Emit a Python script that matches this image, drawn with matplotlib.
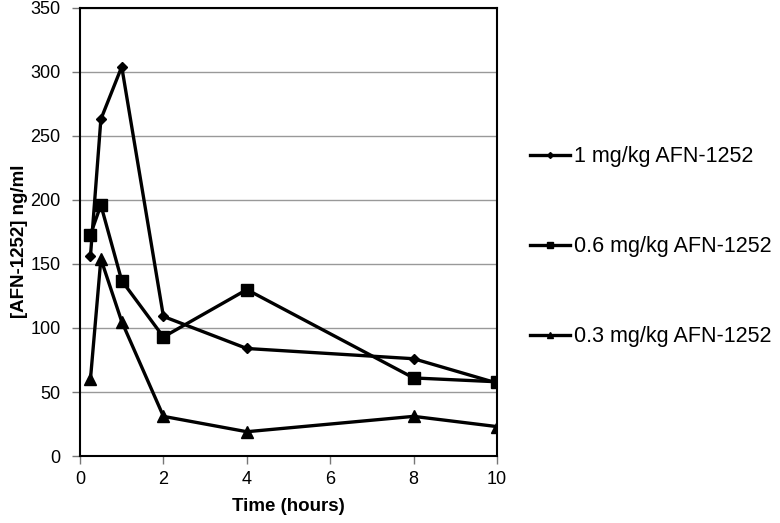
import matplotlib
matplotlib.use('Agg')
import matplotlib.pyplot as plt

plt.rcParams['font.family'] = ['Liberation Sans', 'DejaVu Sans']

time = [0.25, 0.5, 1, 2, 4, 8, 10]
dose_1 = [156, 263, 304, 109, 84, 76, 57]
dose_06 = [173, 196, 137, 93, 130, 61, 58]
dose_03 = [60, 154, 105, 31, 19, 31, 23]
labels = ['1 mg/kg AFN-1252', '0.6 mg/kg AFN-1252', '0.3 mg/kg AFN-1252']

fig = plt.figure(figsize=(7.8, 5.23), dpi=100)
ax = fig.add_axes([0.1026, 0.128, 0.5346, 0.857])

ax.plot(time, dose_1, color='black', lw=2.4, marker='D', ms=5, label=labels[0])
ax.plot(time, dose_06, color='black', lw=2.4, marker='s', ms=8, label=labels[1])
ax.plot(time, dose_03, color='black', lw=2.4, marker='^', ms=8, label=labels[2])

ax.set_xlim(0, 10)
ax.set_ylim(0, 350)
ax.set_xticks([0, 2, 4, 6, 8, 10])
ax.set_yticks(range(0, 351, 50))
ax.yaxis.grid(True, color='#999999', lw=1)
ax.set_axisbelow(True)
for s in ax.spines.values():
    s.set_color('black')
    s.set_linewidth(1.5)
ax.tick_params(labelsize=13, length=6, width=1, color='#777777')
ax.tick_params(axis='y', pad=8)
ax.tick_params(axis='x', pad=5)
ax.set_xlabel('Time (hours)', fontsize=13.5, fontweight='bold', labelpad=7)
ax.set_ylabel('[AFN-1252] ng/ml', fontsize=13.5, fontweight='bold', labelpad=5)
ax.yaxis.set_label_coords(-0.125, 0.48)

leg = fig.legend(loc='center left', bbox_to_anchor=(0.655, 0.528), frameon=False,
                 fontsize=15.5, handlelength=1.85, handletextpad=0.2, labelspacing=3.2,
                 markerscale=0.6)

fig.savefig('out.png', dpi=100)
